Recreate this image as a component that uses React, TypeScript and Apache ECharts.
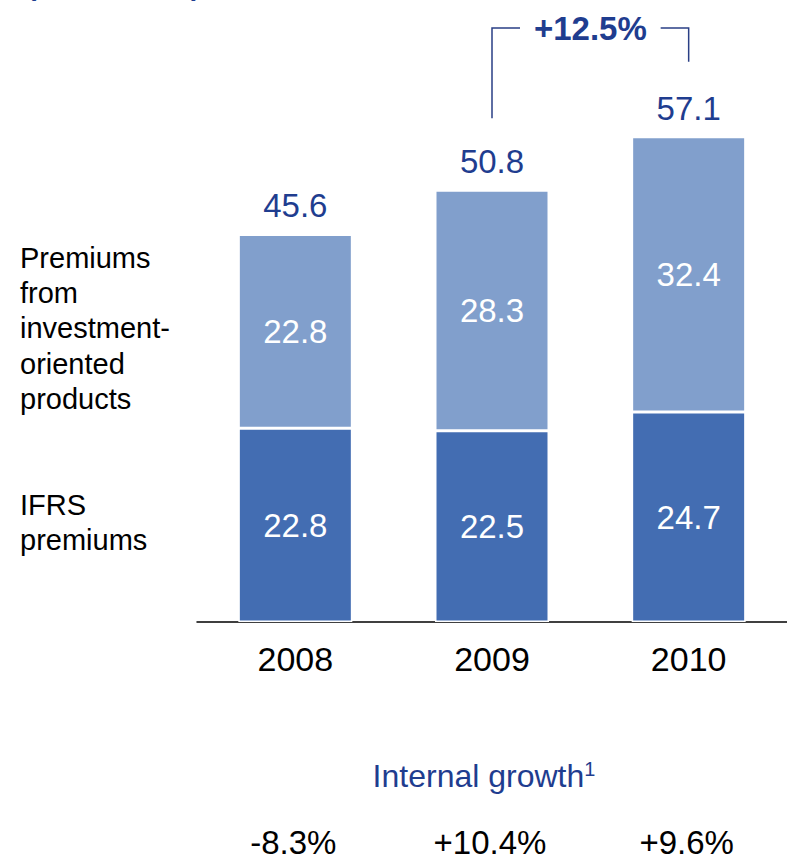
import React, { useEffect, useRef } from "react";
import * as echarts from "echarts";

const years = ["2008", "2009", "2010"];
const ifrsPremiums = [22.8, 22.5, 24.7];
const investmentPremiums = [22.8, 28.3, 32.4];
const totals = [45.6, 50.8, 57.1];
const internalGrowth = ["-8.3%", "+10.4%", "+9.6%"];
const growthLabel = "+12.5%";
const unitTitle = "(EUR bn)";
const investLabelLines = ["Premiums", "from", "investment-", "oriented", "products"];
const ifrsLabelLines = ["IFRS", "premiums"];

const BLUE = "#1f3d8f";
const LIGHT = "#819fcc";
const DARK = "#436db2";
const FONT = "Liberation Sans, Arial, sans-serif";

export default function App() {
  const ref = useRef<HTMLDivElement>(null);
  useEffect(() => {
    if (!ref.current) return;
    const chart = echarts.init(ref.current, null, { renderer: "svg" });
    chart.setOption({
      animation: false,
      grid: { left: 197, right: -5, top: 27, bottom: 241 },
      xAxis: {
        type: "category",
        data: years,
        axisTick: { show: false },
        axisLine: { lineStyle: { color: "#000", width: 1.5 } },
        axisLabel: { color: "#000", fontSize: 34, fontFamily: FONT, margin: 20 },
      },
      yAxis: { type: "value", min: 0, max: 70, show: false, splitLine: { show: false } },
      series: [
        {
          type: "bar",
          stack: "p",
          data: ifrsPremiums,
          barWidth: 114,
          itemStyle: { color: DARK, borderColor: "#fff", borderWidth: 1.5 },
          label: { show: true, position: "inside", color: "#fff", fontSize: 33, fontFamily: FONT },
        },
        {
          type: "bar",
          stack: "p",
          data: investmentPremiums,
          barWidth: 114,
          itemStyle: { color: LIGHT, borderColor: "#fff", borderWidth: 1.5 },
          label: { show: true, position: "inside", color: "#fff", fontSize: 33, fontFamily: FONT },
        },
        {
          type: "scatter",
          data: totals,
          symbolSize: 0,
          itemStyle: { opacity: 1 },
          label: { show: true, position: "top", distance: 12, color: BLUE, fontSize: 33, fontFamily: FONT },
        },
      ],
    });

    const px = (i: number, v: number) => chart.convertToPixel({ gridIndex: 0 }, [i, v]) as number[];
    const graphic: any[] = [];
    graphic.push({
      type: "text",
      left: 22,
      y: -24,
      style: { text: unitTitle, fill: BLUE, fontSize: 44, fontFamily: FONT, verticalAlign: "middle" },
    });
    investLabelLines.forEach((t, k) => {
      graphic.push({
        type: "text",
        x: 20,
        y: 258 + k * 35.2,
        style: { text: t, fill: "#000", fontSize: 29, fontFamily: FONT, verticalAlign: "middle" },
      });
    });
    ifrsLabelLines.forEach((t, k) => {
      graphic.push({
        type: "text",
        x: 20,
        y: 505 + k * 35.2,
        style: { text: t, fill: "#000", fontSize: 29, fontFamily: FONT, verticalAlign: "middle" },
      });
    });
    // bracket
    const p1 = px(1, totals[1]);
    const p2 = px(2, totals[2]);
    const yTop = 28;
    const textX = (p1[0] + p2[0]) / 2;
    const col = "#2a3f85";
    graphic.push({
      type: "polyline",
      shape: { points: [[p1[0], p1[1] - 72], [p1[0], yTop], [p1[0] + 28, yTop]] },
      style: { stroke: col, lineWidth: 1.5, fill: null },
    });
    graphic.push({
      type: "polyline",
      shape: { points: [[p2[0] - 28, yTop], [p2[0], yTop], [p2[0], p2[1] - 75]] },
      style: { stroke: col, lineWidth: 1.5, fill: null },
    });
    graphic.push({
      type: "text",
      x: textX,
      y: yTop,
      style: {
        text: growthLabel,
        fill: BLUE,
        fontSize: 33,
        fontWeight: "bold",
        fontFamily: FONT,
        align: "center",
        verticalAlign: "middle",
      },
    });
    const c1 = px(1, 0);
    graphic.push({
      type: "text",
      x: c1[0] - 8,
      y: 776,
      style: {
        text: "Internal growth{s|1}",
        fill: BLUE,
        fontSize: 32,
        fontFamily: FONT,
        align: "center",
        verticalAlign: "middle",
        rich: { s: { fontSize: 20, verticalAlign: "top", fill: BLUE, fontFamily: FONT, padding: [0, 0, 14, 0] } },
      },
    });
    internalGrowth.forEach((t, i) => {
      const c = px(i, 0);
      graphic.push({
        type: "text",
        x: c[0] - 2,
        y: 842,
        style: { text: t, fill: "#000", fontSize: 33, fontFamily: FONT, align: "center", verticalAlign: "middle" },
      });
    });
    chart.setOption({ graphic });
    return () => chart.dispose();
  }, []);
  return (
    <div
      ref={ref}
      style={{ position: "fixed", left: 0, top: 0, width: 787, height: 863, background: "#fff" }}
    />
  );
}
